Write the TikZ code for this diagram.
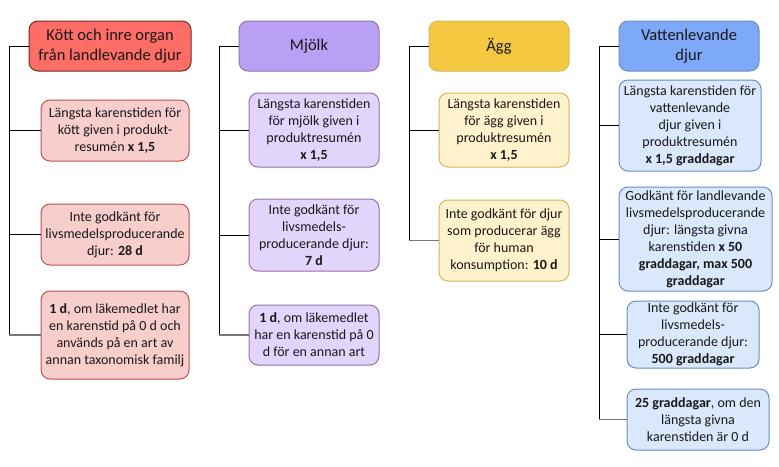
\documentclass[tikz,border=0pt]{standalone}
\usepackage{fontspec}
\setmainfont{Carlito}
\definecolor{hRed}{HTML}{FF6E66}\definecolor{hRedB}{HTML}{6E2A24}
\definecolor{cRed}{HTML}{F8CECC}\definecolor{cRedB}{HTML}{B85450}
\definecolor{hPur}{HTML}{B9A0F5}\definecolor{hPurB}{HTML}{9673A6}
\definecolor{cPur}{HTML}{E1D5FB}\definecolor{cPurB}{HTML}{9673A6}
\definecolor{hYel}{HTML}{F5C842}\definecolor{hYelB}{HTML}{D6B656}
\definecolor{cYel}{HTML}{FFF2CC}\definecolor{cYelB}{HTML}{D6B656}
\definecolor{hBlu}{HTML}{7EA8F8}\definecolor{hBluB}{HTML}{6C8EBF}
\definecolor{cBlu}{HTML}{DAE8FC}\definecolor{cBluB}{HTML}{6C8EBF}
\definecolor{lastline}{HTML}{777777}
\tikzset{
  box/.style={rounded corners=9pt, draw, line width=1pt, align=center, inner sep=0pt, text=black!90},
  head/.style={box, font=\fontsize{16.5}{20}\selectfont},
  child/.style={box, font=\fontsize{14}{17}\selectfont},
  wire/.style={draw=black, line width=1pt},
  lastwire/.style={draw=lastline, line width=1.6pt},
}
\begin{document}
\begin{tikzpicture}[x=1pt,y=-1pt]
\path[fill=white] (0,0) rectangle (779,466);
\useasboundingbox (0,0) rectangle (779,466);
% column 1
\node[head, fill=hRed, draw=hRedB, minimum width=162pt, minimum height=50pt] (h1) at (110,46) {Kött och inre organ\\från landlevande djur};
\node[child, fill=cRed, draw=cRedB, minimum width=148pt, minimum height=61pt] (a1) at (115,130.5) {Längsta karenstiden för\\kött given i produkt-\\resumén \textbf{x 1,5}};
\node[child, fill=cRed, draw=cRedB, minimum width=148pt, minimum height=61pt] (a2) at (115,234.5) {Inte godkänt för\\livsmedelsproducerande\\djur: \textbf{28 d}};
\node[child, fill=cRed, draw=cRedB, minimum width=148pt, minimum height=88pt] (a3) at (115,335) {\textbf{1 d}, om läkemedlet har\\en karenstid på 0 d och\\används på en art av\\annan taxonomisk familj};
\coordinate (t1) at (9,46);
% column 2
\node[head, fill=hPur, draw=hPurB, minimum width=140pt, minimum height=50pt] (h2) at (309,46) {Mjölk};
\node[child, fill=cPur, draw=cPurB, minimum width=130pt, minimum height=74pt] (b1) at (314,130) {Längsta karenstiden\\för mjölk given i\\produktresumén\\\textbf{x 1,5}};
\node[child, fill=cPur, draw=cPurB, minimum width=130pt, minimum height=72pt] (b2) at (314,235) {Inte godkänt för\\livsmedels-\\producerande djur:\\\textbf{7 d}};
\node[child, fill=cPur, draw=cPurB, minimum width=130pt, minimum height=60pt] (b3) at (314,335) {\textbf{1 d}, om läkemedlet\\har en karenstid på 0\\d för en annan art};
\coordinate (t2) at (219,46);
% column 3
\node[head, fill=hYel, draw=hYelB, minimum width=140pt, minimum height=50pt] (h3) at (499,46) {Ägg};
\node[child, fill=cYel, draw=cYelB, minimum width=130pt, minimum height=74pt] (e1) at (504,130) {Längsta karenstiden\\för ägg given i\\produktresumén\\\textbf{x 1,5}};
\node[child, fill=cYel, draw=cYelB, minimum width=130pt, minimum height=81pt] (e2) at (504,240.5) {Inte godkänt för djur\\som producerar ägg\\för human\\konsumption: \textbf{10 d}};
\coordinate (t3) at (409,46);
% column 4
\node[head, fill=hBlu, draw=hBluB, minimum width=140pt, minimum height=50pt] (h4) at (689,46) {Vattenlevande\\djur};
\node[child, fill=cBlu, draw=cBluB, minimum width=142pt, minimum height=91pt] (v1) at (690,125.5) {Längsta karenstiden för\\vattenlevande\\djur given i\\produktresumén\\\textbf{x 1,5 graddagar}};
\node[child, fill=cBlu, draw=cBluB, minimum width=153pt, minimum height=104pt] (v2) at (695.5,239) {Godkänt för landlevande\\livsmedelsproducerande\\djur: längsta givna\\karenstiden \textbf{x 50}\\\textbf{graddagar, max 500}\\\textbf{graddagar}};
\node[child, fill=cBlu, draw=cBluB, minimum width=132pt, minimum height=67pt] (v3) at (693,334.5) {Inte godkänt för\\livsmedels-\\producerande djur:\\\textbf{500 graddagar}};
\node[child, fill=cBlu, draw=cBluB, minimum width=142pt, minimum height=61pt] (v4) at (698,419.5) {\textbf{25 graddagar}, om den\\längsta givna\\karenstiden är 0 d};
\coordinate (t4) at (599,46);
% connectors
\draw[wire] (h1.west) -- (t1) -- (a3.west -| t1);
\draw[wire] (a1.west -| t1) -- (a1.west);
\draw[wire] (a2.west -| t1) -- (a2.west);
\draw[lastwire] (a3.west -| t1) -- (a3.west);
\draw[wire] (h2.west) -- (t2) -- (b3.west -| t2);
\draw[wire] (b1.west -| t2) -- (b1.west);
\draw[wire] (b2.west -| t2) -- (b2.west);
\draw[lastwire] (b3.west -| t2) -- (b3.west);
\draw[wire] (h3.west) -- (t3) -- (e2.west -| t3);
\draw[wire] (e1.west -| t3) -- (e1.west);
\draw[lastwire] (e2.west -| t3) -- (e2.west);
\draw[wire] (h4.west) -- (t4) -- (v4.west -| t4);
\draw[wire] (v1.west -| t4) -- (v1.west);
\draw[wire] (v2.west -| t4) -- (v2.west);
\draw[wire] (v3.west -| t4) -- (v3.west);
\draw[lastwire] (v4.west -| t4) -- (v4.west);
\end{tikzpicture}
\end{document}
